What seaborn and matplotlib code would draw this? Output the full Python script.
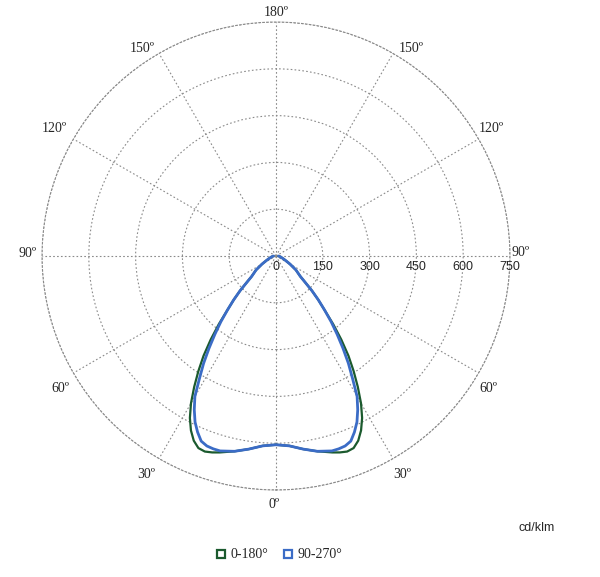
import numpy as np
import pandas as pd
import seaborn as sns
import matplotlib.pyplot as plt
from matplotlib.lines import Line2D

# photometric data, gamma measured from nadir (deg), intensity in cd/klm
gamma = [0, 4, 8, 12, 16, 18, 20, 22, 24, 26, 28, 30, 32, 34, 36, 38, 40,
         42, 44, 46, 48, 50, 55, 60, 65, 70, 80, 90]
i_0_180 = [605, 610, 625, 640, 655, 662, 667, 664, 648, 622, 588, 545, 495, 445, 395, 340, 285,
           232, 195, 160, 125, 102, 78, 52, 34, 24, 14, 8]
i_90_270 = [605, 610, 625, 640, 650, 650, 648, 640, 618, 592, 558, 520, 463, 415, 365, 318, 275,
            232, 195, 160, 125, 102, 78, 52, 34, 24, 14, 8]

planes = ['0-180°', '90-270°']
colors = ['#1b5a2e', '#3b6cc6']
r_ticks = [0, 150, 300, 450, 600, 750]
ang_ticks = [0, 30, 60, 90, 120, 150, 180, 210, 240, 270, 300, 330]
ang_labels = ['0º', '30º', '60º', '90º', '120º', '150º', '180º',
              '150º', '120º', '90º', '60º', '30º']

#%% build long table (left half mirrored)
rows = []
for name, vals in zip(planes, [i_0_180, i_90_270]):
    g = [-x for x in gamma[::-1]] + gamma[1:]
    v = vals[::-1] + vals[1:]
    for a, b in zip(g, v):
        rows.append([name, np.deg2rad(a), b])
df = pd.DataFrame(rows, columns=['plane', 'theta', 'intensity'])

#%% plotting
sns.set_style('white')
fig = plt.figure(figsize=(6, 5.77), dpi=100)
ax = fig.add_axes([0.07, 0.1508, 0.78, 0.811], projection='polar')
ax.set_theta_zero_location('S')
ax.set_theta_direction(1)

sns.lineplot(data=df, x='theta', y='intensity', hue='plane', palette=colors,
             sort=False, estimator=None, legend=False, ax=ax)
for line, lw in zip(ax.lines, [1.6, 2.0]):
    line.set_linewidth(lw)

ax.set_ylim(0, 750)
ax.set_rgrids([150, 300, 450, 600, 750], labels=[])
ax.set_thetagrids(ang_ticks, labels=[])
ax.grid(True, color='#8a8a8a', linestyle=(0, (1.5, 2)), linewidth=0.8)
ax.spines['polar'].set_linestyle((0, (1.5, 2)))
ax.spines['polar'].set_color('#8a8a8a')
ax.spines['polar'].set_linewidth(0.8)
ax.set_xlabel('')
ax.set_ylabel('')

# radial value labels
for r in r_ticks:
    ax.annotate(str(r), (np.pi / 2, r), xytext=(0, -11), textcoords='offset pixels',
                ha='center', va='center', fontsize=9, family='Liberation Sans',
                annotation_clip=False)

# angle labels
offs = {0: (-2, -15), 30: (9, -16), 60: (10, -15), 90: (11, 4), 120: (13, 11),
        150: (18, 5), 180: (0, 10), 210: (-17, 5), 240: (-19, 11), 270: (-14, 3),
        300: (-13, -15), 330: (-13, -16)}
for a, lab in zip(ang_ticks, ang_labels):
    ax.annotate(lab, (np.deg2rad(a), 750), xytext=offs[a], textcoords='offset pixels',
                ha='center', va='center', fontsize=10, family='Liberation Serif',
                annotation_clip=False)

fig.text(537 / 600, 1 - 528 / 577, 'cd/klm', ha='center', va='center',
         fontsize=9, family='Liberation Sans')

handles = [Line2D([], [], linestyle='none', marker='s', markersize=5.5,
                  markerfacecolor='white', markeredgecolor=c, markeredgewidth=1.6)
           for c in colors]
fig.legend(handles, planes, loc='center left', bbox_to_anchor=(203 / 600, 1 - 555 / 577),
           ncol=2, frameon=False, prop={'family': 'Liberation Serif', 'size': 10},
           handlelength=0.8, handletextpad=0.3, columnspacing=1.0)

plt.savefig('out.png', dpi=100)
